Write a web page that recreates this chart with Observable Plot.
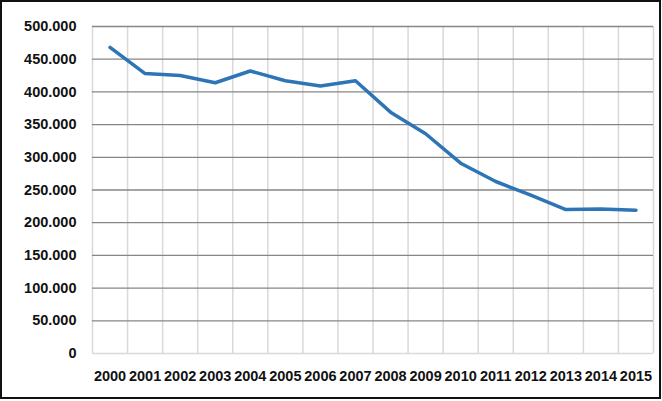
<!DOCTYPE html>
<html>
<head>
<meta charset="utf-8">
<script src="https://cdn.jsdelivr.net/npm/d3@7"></script>
<script src="https://cdn.jsdelivr.net/npm/@observablehq/plot@0.6"></script>
<style>
  html, body { margin: 0; padding: 0; background: #fff; }
  #wrap { position: relative; width: 662px; height: 401px; }
  #frame { position: absolute; left: 0; top: 0; width: 661px; height: 399px; box-sizing: border-box; border: 2px solid #111; pointer-events: none; }
</style>
</head>
<body>
<div id="wrap"><div id="frame"></div></div>
<script>
const years = [2000, 2001, 2002, 2003, 2004, 2005, 2006, 2007, 2008, 2009, 2010, 2011, 2012, 2013, 2014, 2015];
const values = [468000, 428000, 425000, 414000, 432000, 417000, 409000, 417000, 369000, 336000, 291000, 263000, 242000, 220000, 221000, 219000];
const yTicks = [0, 50000, 100000, 150000, 200000, 250000, 300000, 350000, 400000, 450000, 500000];

const data = years.map((y, i) => ({year: y, value: values[i]}));
const bounds = years.map(y => y - 0.5).concat([years[years.length - 1] + 0.5]);
const fmt = d => d === 0 ? "0" : d3.format(",.0f")(d).replace(/,/g, ".");

const chart = Plot.plot({
  width: 662,
  height: 401,
  marginLeft: 92,
  marginRight: 9,
  marginTop: 26,
  marginBottom: 48,
  style: {fontFamily: "'Liberation Sans', Arial, sans-serif", fontSize: "14.5px", fontWeight: "bold", color: "#111", background: "transparent"},
  x: {type: "linear", domain: [1999.5, 2015.5], ticks: years, tickFormat: d => String(d), tickSize: 0, tickPadding: 17, label: null},
  y: {domain: [0, 500000], ticks: yTicks, tickFormat: fmt, tickSize: 0, tickPadding: 16, label: null},
  marks: [
    Plot.ruleX(bounds, {stroke: "#d9d9d9", strokeWidth: 1.5, strokeOpacity: 1}),
    Plot.ruleY(yTicks.filter(t => t > 0), {stroke: "#868686", strokeWidth: 1.3, strokeOpacity: 1}),
    Plot.ruleY([0], {stroke: "#d9d9d9", strokeWidth: 1.5, strokeOpacity: 1}),
    Plot.line(data, {x: "year", y: "value", stroke: "#2e75b6", strokeWidth: 3.5, strokeLinejoin: "round", strokeLinecap: "round"})
  ]
});
document.getElementById("wrap").prepend(chart);
</script>
</body>
</html>
